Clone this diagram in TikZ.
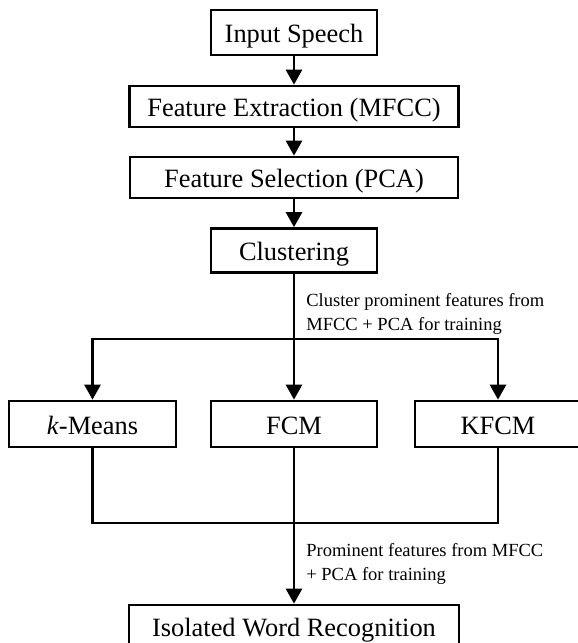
\documentclass[tikz,border=0pt]{standalone}
\usepackage{fontspec}
\setmainfont{Liberation Serif}
\usetikzlibrary{arrows.meta,calc,positioning}
\tikzset{
  stagebox/.style={draw,line width=1.35pt,inner sep=0pt,minimum height=21.5pt,
    text height=10pt,text depth=0pt,
    font=\fontsize{13.2}{16}\selectfont},
  flow/.style={line width=1.35pt},
  note/.style={anchor=north west,inner sep=0pt,align=left,
    font=\fontsize{9.25}{12}\selectfont},
}
\begin{document}
\begin{tikzpicture}[x=0.5pt,y=-0.5pt,>={Triangle[width=8pt,length=7.5pt]}]
  \useasboundingbox (0,0) rectangle (578,643);
  % Stufen oben
  \node[stagebox,minimum width=83pt,minimum height=22.5pt] (input) at (294,32.5) {Input Speech};
  \node[stagebox,minimum width=164.5pt,minimum height=20.5pt] (mfcc) at (294,106.5) {Feature Extraction (MFCC)};
  \node[stagebox,minimum width=164pt,minimum height=20.5pt] (pca) at (294,177.5) {Feature Selection (PCA)};
  \node[stagebox,minimum width=83pt,minimum height=22pt] (clust) at (294,250.5) {Clustering};
  % Clusterverfahren
  \node[stagebox,minimum width=83.5pt,minimum height=23pt] (kmeans) at (92.5,424) {\textit{k}-Means};
  \node[stagebox,minimum width=83pt,minimum height=23pt] (fcm) at (294,424) {FCM};
  \node[stagebox,minimum width=83pt,minimum height=23pt] (kfcm) at (498,424) {KFCM};
  % Erkennung
  \node[stagebox,minimum width=165pt,minimum height=21pt] (iwr) at (294,626) {Isolated Word Recognition};
  % Verzweigung
  \coordinate (split) at (294,339);
  \coordinate (merge) at (294,523);
  % Pfeile
  \draw[flow,->] (input) -- (mfcc);
  \draw[flow,->] (mfcc) -- (pca);
  \draw[flow,->] (pca) -- (clust);
  \draw[flow] (clust) -- (split);
  \draw[flow,->] (split) -| (kmeans);
  \draw[flow,->] (split) -- (fcm);
  \draw[flow,->] (split) -| (kfcm);
  \draw[flow] (kmeans) |- (merge) -| (kfcm);
  \draw[flow] (fcm) -- (merge);
  \draw[flow,->] (merge) -- (iwr);
  % Beschriftungen
  \node[note] (clustnote) at (306,293) {Cluster prominent features from\\MFCC + PCA for training};
  \node[note] (trainnote) at (306,543) {Prominent features from MFCC\\+ PCA for training};
\end{tikzpicture}
\end{document}
